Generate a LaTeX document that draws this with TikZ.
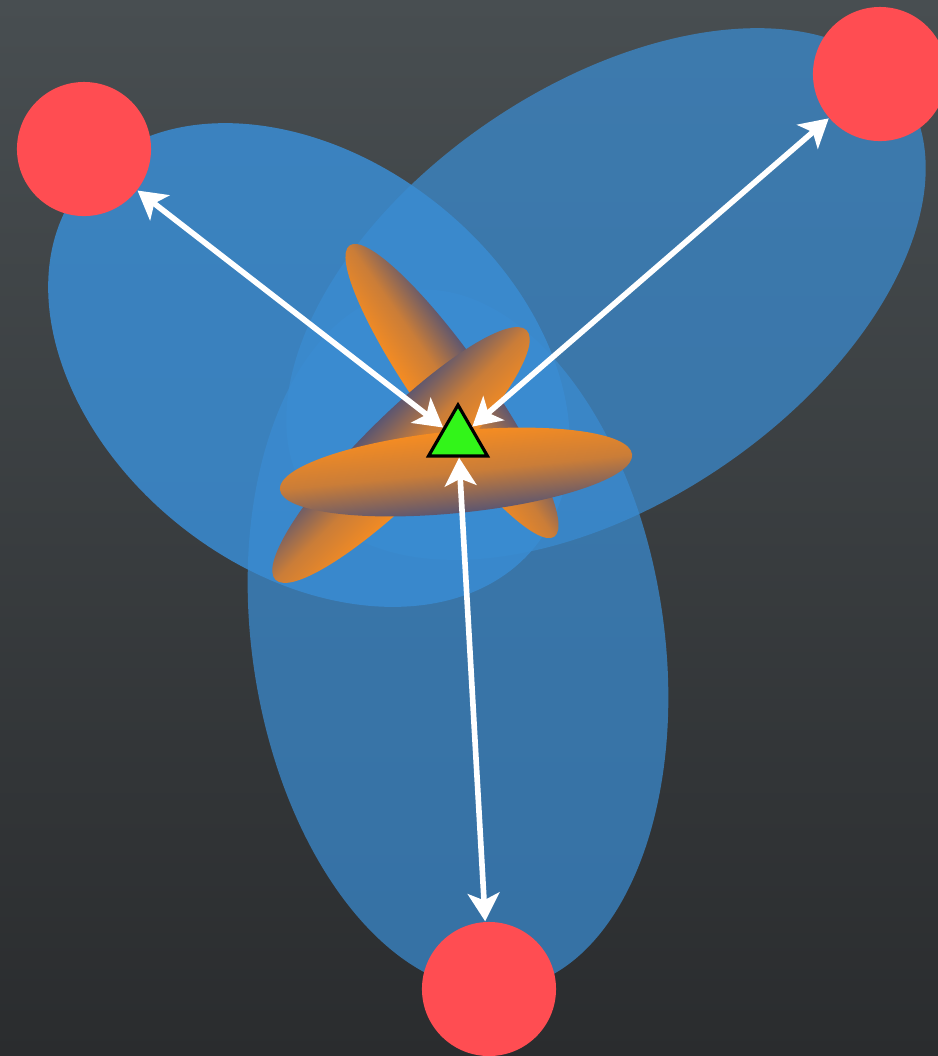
\documentclass[tikz,border=0pt]{standalone}
\usepackage{tikz}
\usetikzlibrary{arrows.meta,shapes.geometric}

\definecolor{bgtop}{RGB}{72,78,81}
\definecolor{bgbottom}{RGB}{42,44,46}
\definecolor{zoneblue}{RGB}{58,140,210}
\definecolor{petalorange}{RGB}{245,140,34}
\definecolor{petalgray}{RGB}{92,86,112}
\definecolor{stationred}{RGB}{255,77,82}
\definecolor{rxgreen}{RGB}{50,245,25}

\begin{document}
\begin{tikzpicture}[
  x=0.01cm, y=-0.01cm,
  zone/.style={fill=zoneblue, fill opacity=#1},
  zone/.default=0.72,
  petal/.style 2 args={top color=#1, bottom color=#2, middle color=petalorange!72!petalgray},
  station/.style={circle, fill=stationred, minimum size=1.34cm, inner sep=0pt},
  receiver/.style={regular polygon, regular polygon sides=3, draw=black, line width=0.9pt,
    fill=rxgreen, minimum size=0.68cm, inner sep=0pt},
  arr/.style={<->, >={Stealth[length=8pt,width=9pt,inset=2pt]}, line width=1.6pt, white}
]
\useasboundingbox (0,0) rectangle (938,1056);
\shade[top color=bgtop, bottom color=bgbottom] (0,0) rectangle (938,1056);

% coverage zones
\fill[zone, rotate around={34.3:(606,294)}] (606,294) ellipse [x radius=360, y radius=208];
\fill[zone, rotate around={8.5:(458,640)}] (458,640) ellipse [x radius=206, y radius=353];
\fill[zone=0.86, rotate around={-38.4:(309,365)}] (309,365) ellipse [x radius=290, y radius=206];

% error lobes
\begin{scope}[transform canvas={rotate around={-54.9:(452,391)}}]
  \shade[petal={petalgray}{petalorange}] (452,391) ellipse [x radius=178, y radius=36];
\end{scope}
\begin{scope}[transform canvas={rotate around={44.8:(401,455)}}]
  \shade[petal={petalgray}{petalorange}] (401,455) ellipse [x radius=177, y radius=40];
\end{scope}
\begin{scope}[transform canvas={rotate around={5.7:(456,472)}}]
  \shade[petal={petalorange}{petalgray}] (456,472) ellipse [x radius=177, y radius=41];
\end{scope}

\node[station] (nw) at (84,149) {};
\node[station] (ne) at (880,74) {};
\node[station] (s) at (489,989) {};
\node[receiver] (rx) at (458,439) {};

\draw[arr] (rx) -- (nw);
\draw[arr] (rx) -- (ne);
\draw[arr] (rx) -- (s);
\end{tikzpicture}
\end{document}
